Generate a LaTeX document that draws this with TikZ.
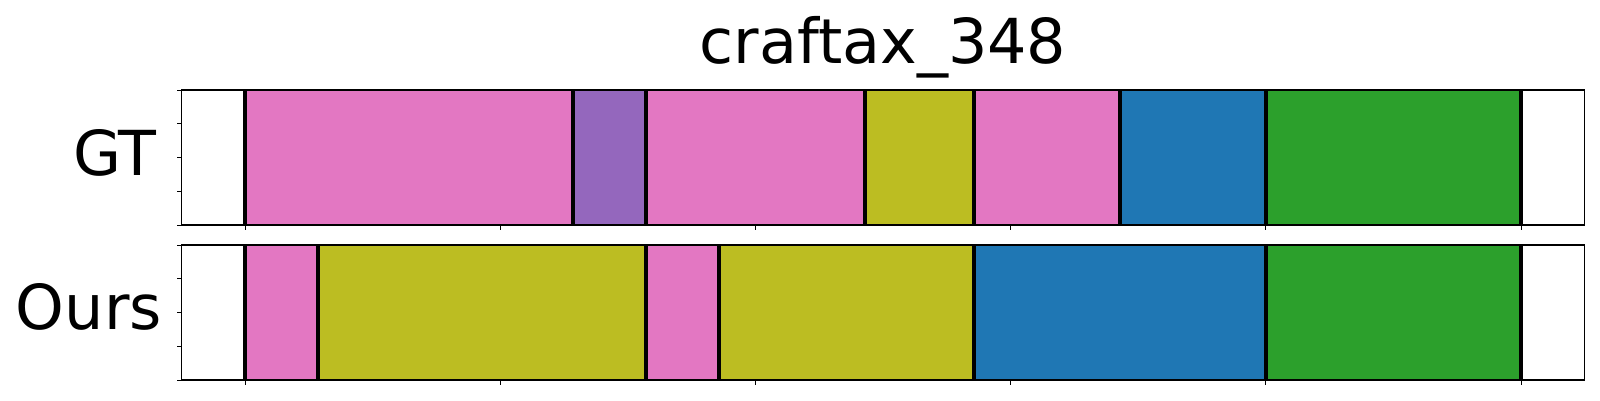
\documentclass[tikz,border=0pt]{standalone}
\usepackage{fontspec}
\setmainfont{DejaVu Sans}
\definecolor{tabpink}{HTML}{E377C2}
\definecolor{tabpurple}{HTML}{9467BD}
\definecolor{tabolive}{HTML}{BCBD22}
\definecolor{tabblue}{HTML}{1F77B4}
\definecolor{tabgreen}{HTML}{2CA02C}
\tikzset{segline/.style={line width=4pt},
  frame/.style={line width=1.1pt},
  tickmark/.style={line width=1pt},
  rowlabel/.style={anchor=base east,inner sep=0pt}}
\newcommand*{\segbar}[4]
  {\fill[#4] (#2,#1) rectangle (#3,#1+135)}
\newcommand*{\cut}[2]
  {\draw[segline] (#2,#1) -- (#2,#1+135)}

\begin{document}
\begin{tikzpicture}[x=1pt,y=-1pt,font=\fontsize{62}{74}\selectfont]
\useasboundingbox (0,0) rectangle (1600,400);
\node[anchor=base] (title) at (883,63) {craftax\_348};
\node[rowlabel] (gt) at (157,175) {GT};
\node[rowlabel] (ours) at (162,329) {Ours};
\begin{scope}[shift={(245.3,0)},x=5.103pt]
% GT row
\segbar{90}{0}{64.3}{tabpink};
\segbar{90}{64.3}{78.5}{tabpurple};
\segbar{90}{78.5}{121.4}{tabpink};
\segbar{90}{121.4}{142.7}{tabolive};
\segbar{90}{142.7}{171.4}{tabpink};
\segbar{90}{171.4}{200}{tabblue};
\segbar{90}{200}{250}{tabgreen};
\foreach \b in {0,64.3,78.5,121.4,142.7,171.4,200,250}
  {\cut{90}{\b};}
% Ours row
\segbar{245}{0}{14.2}{tabpink};
\segbar{245}{14.2}{78.5}{tabolive};
\segbar{245}{78.5}{92.8}{tabpink};
\segbar{245}{92.8}{142.7}{tabolive};
\segbar{245}{142.7}{200}{tabblue};
\segbar{245}{200}{250}{tabgreen};
\foreach \b in {0,14.2,78.5,92.8,142.7,200,250}
  {\cut{245}{\b};}
% frames and ticks
\draw[frame] (-12.5,90) rectangle (262.5,225);
\draw[frame] (-12.5,245) rectangle (262.5,380);
\foreach \t in {0,50,...,250}
  {\draw[tickmark] (\t,225) -- (\t,229.7);
   \draw[tickmark] (\t,380) -- (\t,384.7);}
\foreach \r in {0,33.75,67.5,101.25,135}
  {\draw[tickmark] (-12.5,90+\r) -- ++(-4.7pt,0);
   \draw[tickmark] (-12.5,245+\r) -- ++(-4.7pt,0);}
\end{scope}
\end{tikzpicture}
\end{document}
